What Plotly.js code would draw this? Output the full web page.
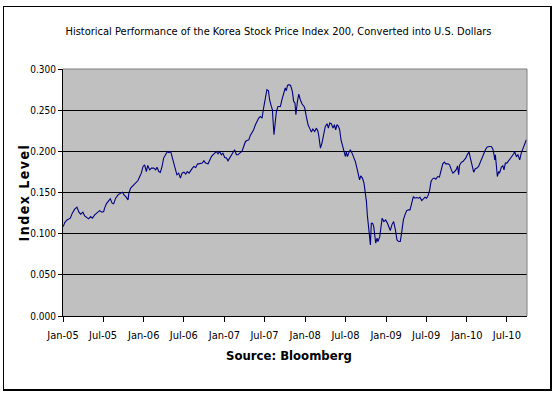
<!DOCTYPE html>
<html>
<head>
<meta charset="utf-8">
<script src="https://cdn.plot.ly/plotly-3.0.1.min.js"></script>
<style>
  html, body { margin: 0; padding: 0; background: #ffffff; }
  #wrap { position: relative; width: 557px; height: 398px; }
  #chart { width: 557px; height: 398px; }
  #frame { position: absolute; left: 3px; top: 6px; width: 549px; height: 385px;
           box-sizing: border-box; border-style: solid; border-color: #000;
           border-width: 1px 2px 2px 1px; pointer-events: none; }
  .g-ytitle text { letter-spacing: 1.5px; }
  .g-ytitle { transform: translate(6px, 0px); }
</style>
</head>
<body>
<div id="wrap">
  <div id="chart"></div>
  <div id="frame"></div>
</div>
<script>
const chartTitle = "Historical Performance of the Korea Stock Price Index 200, Converted into U.S. Dollars";
const yTitle = "Index Level";
const sourceNote = "Source: Bloomberg";

const dates = [
  "2005-01-02","2005-01-09","2005-01-19","2005-02-03","2005-02-12","2005-02-23","2005-03-05","2005-03-14","2005-03-22","2005-04-01",
  "2005-04-09","2005-04-19","2005-04-27","2005-05-06","2005-05-14","2005-05-24","2005-06-04","2005-06-16","2005-06-26","2005-07-04",
  "2005-07-08","2005-07-16","2005-07-27","2005-08-03","2005-08-11","2005-08-18","2005-08-27","2005-09-07","2005-09-18","2005-09-27",
  "2005-10-04","2005-10-12","2005-10-22","2005-10-26","2005-11-03","2005-11-14","2005-11-26","2005-12-06","2005-12-14","2005-12-21",
  "2005-12-29","2006-01-05","2006-01-13","2006-01-19","2006-01-28","2006-02-05","2006-02-15","2006-02-24","2006-03-02","2006-03-10",
  "2006-03-17","2006-03-25","2006-04-01","2006-04-10","2006-04-18","2006-04-25","2006-05-03","2006-05-09","2006-05-16","2006-05-24",
  "2006-05-31","2006-06-08","2006-06-16","2006-06-23","2006-07-02","2006-07-10","2006-07-17","2006-07-25","2006-08-01","2006-08-09",
  "2006-08-16","2006-08-24","2006-09-01","2006-09-11","2006-09-23","2006-09-30","2006-10-08","2006-10-19","2006-10-26","2006-11-03",
  "2006-11-10","2006-11-18","2006-11-25","2006-12-03","2006-12-10","2006-12-18","2006-12-25","2007-01-02","2007-01-10","2007-01-17",
  "2007-01-25","2007-02-01","2007-02-09","2007-02-16","2007-02-24","2007-03-03","2007-03-11","2007-03-21","2007-03-29","2007-04-06",
  "2007-04-13","2007-04-21","2007-04-28","2007-05-05","2007-05-13","2007-05-21","2007-05-28","2007-06-05","2007-06-12","2007-06-20",
  "2007-06-27","2007-07-05","2007-07-12","2007-07-19","2007-07-24","2007-08-01","2007-08-06","2007-08-08","2007-08-13","2007-08-19",
  "2007-08-24","2007-08-31","2007-09-11","2007-09-18","2007-09-26","2007-10-03","2007-10-08","2007-10-13","2007-10-20","2007-10-27",
  "2007-11-04","2007-11-10","2007-11-16","2007-11-20","2007-11-27","2007-12-03","2007-12-10","2007-12-18","2007-12-27","2007-12-30",
  "2008-01-06","2008-01-14","2008-01-21","2008-01-29","2008-02-05","2008-02-13","2008-02-21","2008-02-28","2008-03-03","2008-03-10",
  "2008-03-17","2008-03-25","2008-04-01","2008-04-09","2008-04-15","2008-04-21","2008-04-28","2008-05-06","2008-05-12","2008-05-18",
  "2008-05-24","2008-05-31","2008-06-05","2008-06-11","2008-06-18","2008-06-24","2008-07-01","2008-07-05","2008-07-10","2008-07-16",
  "2008-07-23","2008-07-31","2008-08-07","2008-08-15","2008-08-22","2008-08-30","2008-09-03","2008-09-08","2008-09-16","2008-09-23",
  "2008-09-29","2008-10-04","2008-10-08","2008-10-13","2008-10-17","2008-10-22","2008-10-26","2008-11-01","2008-11-06","2008-11-10",
  "2008-11-15","2008-11-21","2008-11-25","2008-12-03","2008-12-10","2008-12-14","2008-12-22","2008-12-30","2009-01-07","2009-01-14",
  "2009-01-20","2009-01-27","2009-02-04","2009-02-12","2009-02-19","2009-02-27","2009-03-06","2009-03-12","2009-03-20","2009-03-27",
  "2009-04-04","2009-04-12","2009-04-19","2009-04-26","2009-05-04","2009-05-11","2009-05-19","2009-05-27","2009-06-03","2009-06-11",
  "2009-06-18","2009-06-26","2009-07-03","2009-07-11","2009-07-17","2009-07-23","2009-07-30","2009-08-07","2009-08-14","2009-08-22",
  "2009-08-30","2009-09-06","2009-09-14","2009-09-21","2009-09-28","2009-10-08","2009-10-15","2009-10-23","2009-10-30","2009-11-07",
  "2009-11-15","2009-11-20","2009-11-25","2009-11-29","2009-12-07","2009-12-14","2009-12-21","2009-12-27","2010-01-05","2010-01-11",
  "2010-01-17","2010-01-24","2010-02-01","2010-02-08","2010-02-16","2010-02-23","2010-03-03","2010-03-10","2010-03-18","2010-03-26",
  "2010-04-02","2010-04-11","2010-04-22","2010-04-29","2010-05-04","2010-05-07","2010-05-10","2010-05-14","2010-05-19","2010-05-25",
  "2010-05-29","2010-06-06","2010-06-13","2010-06-18","2010-06-24","2010-07-01","2010-07-09","2010-07-17","2010-07-24","2010-08-01",
  "2010-08-05","2010-08-13","2010-08-20","2010-08-28","2010-09-04","2010-09-12","2010-09-19","2010-09-27"
];

const indexLevel = [
  0.1086,0.1135,0.1167,0.1188,0.1249,0.1297,0.1322,0.1261,0.1237,0.1261,
  0.1216,0.1200,0.1180,0.1207,0.1188,0.1228,0.1256,0.1280,0.1261,0.1268,
  0.1310,0.1362,0.1402,0.1423,0.1370,0.1362,0.1431,0.1471,0.1492,0.1504,
  0.1471,0.1450,0.1410,0.1492,0.1553,0.1580,0.1613,0.1645,0.1694,0.1735,
  0.1816,0.1836,0.1755,0.1828,0.1775,0.1796,0.1796,0.1775,0.1808,0.1755,
  0.1743,0.1816,0.1918,0.1958,0.1998,0.1986,0.1998,0.1937,0.1857,0.1796,
  0.1715,0.1735,0.1675,0.1735,0.1747,0.1723,0.1755,0.1735,0.1767,0.1796,
  0.1816,0.1803,0.1845,0.1848,0.1857,0.1885,0.1857,0.1848,0.1897,0.1937,
  0.1958,0.1978,0.1998,0.1970,0.1998,0.1958,0.1978,0.1925,0.1918,0.1885,
  0.1918,0.1958,0.1978,0.2019,0.1958,0.1958,0.1978,0.1998,0.2059,0.2120,
  0.2132,0.2140,0.2193,0.2222,0.2262,0.2323,0.2363,0.2404,0.2424,0.2404,
  0.2526,0.2667,0.2748,0.2736,0.2627,0.2545,0.2505,0.2404,0.2201,0.2363,
  0.2484,0.2545,0.2545,0.2627,0.2708,0.2769,0.2736,0.2800,0.2809,0.2800,
  0.2728,0.2606,0.2586,0.2444,0.2606,0.2696,0.2627,0.2575,0.2545,0.2526,
  0.2424,0.2323,0.2282,0.2234,0.2270,0.2241,0.2282,0.2241,0.2180,0.2039,
  0.2100,0.2222,0.2302,0.2335,0.2282,0.2343,0.2335,0.2282,0.2323,0.2262,
  0.2323,0.2302,0.2262,0.2140,0.2079,0.1998,0.1937,0.1998,0.1937,0.1978,
  0.2019,0.1978,0.1937,0.1876,0.1796,0.1715,0.1654,0.1702,0.1675,0.1614,
  0.1512,0.1390,0.1228,0.1107,0.0985,0.0863,0.1127,0.1127,0.1086,0.1006,
  0.0884,0.0945,0.0904,0.0960,0.1107,0.1188,0.1147,0.1167,0.1127,0.1086,
  0.1038,0.1107,0.1147,0.1046,0.0924,0.0904,0.0904,0.1006,0.1167,0.1228,
  0.1280,0.1289,0.1289,0.1362,0.1450,0.1431,0.1439,0.1431,0.1443,0.1402,
  0.1419,0.1443,0.1431,0.1471,0.1532,0.1633,0.1666,0.1675,0.1662,0.1694,
  0.1687,0.1755,0.1848,0.1869,0.1848,0.1848,0.1836,0.1775,0.1735,0.1755,
  0.1784,0.1824,0.1715,0.1830,0.1866,0.1876,0.1893,0.1918,0.1970,0.1990,
  0.1918,0.1836,0.1747,0.1788,0.1796,0.1816,0.1869,0.1918,0.1978,0.2019,
  0.2051,0.2059,0.2059,0.2027,0.1958,0.1897,0.1958,0.1857,0.1694,0.1755,
  0.1735,0.1808,0.1824,0.1775,0.1857,0.1857,0.1889,0.1905,0.1946,0.1970,
  0.1998,0.1937,0.1958,0.1897,0.1978,0.2039,0.2079,0.2140
];

const xRange = ["2005-01-01", "2010-09-30"];
const yRange = [0, 0.3];

const narrow = "'Liberation Sans Narrow', 'Arial Narrow', 'DejaVu Sans Condensed', sans-serif";

const trace = {
  type: "scatter",
  mode: "lines",
  x: dates,
  y: indexLevel,
  line: { color: "#000080", width: 1.1 },
  hoverinfo: "x+y",
  showlegend: false
};

const layout = {
  width: 557,
  height: 398,
  margin: { l: 63, r: 30, t: 69, b: 82, pad: 0 },
  paper_bgcolor: "#ffffff",
  plot_bgcolor: "#c0c0c0",
  title: {
    text: chartTitle,
    font: { family: narrow, size: 11, color: "#000000" },
    x: (278.5 - 63) / 464, xref: "paper", xanchor: "center",
    y: 1 - 31 / 398, yref: "container", yanchor: "middle"
  },
  xaxis: {
    type: "date",
    range: xRange,
    tick0: "2005-01-01",
    dtick: "M6",
    tickformat: "%b-%y",
    ticks: "outside",
    ticklen: 5,
    tickwidth: 1,
    tickcolor: "#000000",
    showline: true,
    linecolor: "#000000",
    linewidth: 1,
    showgrid: false,
    zeroline: false,
    tickfont: { family: narrow, size: 11, color: "#000000" },
    ticklabelstandoff: 4,
    fixedrange: true
  },
  yaxis: {
    range: yRange,
    dtick: 0.05,
    tick0: 0,
    tickformat: ".3f",
    ticks: "outside",
    ticklen: 4,
    tickwidth: 1,
    tickcolor: "#000000",
    showline: true,
    linecolor: "#000000",
    linewidth: 1,
    showgrid: true,
    gridcolor: "#000000",
    gridwidth: 1,
    zeroline: false,
    tickfont: { family: narrow, size: 10, color: "#000000" },
    title: {
      text: yTitle,
      font: { family: narrow, size: 14, color: "#000000", weight: "bold" },
      standoff: 3
    },
    fixedrange: true
  },
  shapes: [
    { type: "line", xref: "paper", yref: "paper", x0: 0, x1: 1, y0: 1, y1: 1,
      line: { color: "#808080", width: 1 }, layer: "above" },
    { type: "line", xref: "paper", yref: "paper", x0: 1, x1: 1, y0: 0, y1: 1,
      line: { color: "#808080", width: 1 }, layer: "above" }
  ],
  annotations: [
    { text: sourceNote, xref: "paper", yref: "paper",
      x: (289 - 63) / 464, y: (316 - 355) / 247, xanchor: "center", yanchor: "middle",
      showarrow: false,
      font: { family: narrow, size: 13, color: "#000000", weight: "bold" } }
  ]
};

Plotly.newPlot("chart", [trace], layout, { staticPlot: true, displayModeBar: false });
</script>
</body>
</html>
